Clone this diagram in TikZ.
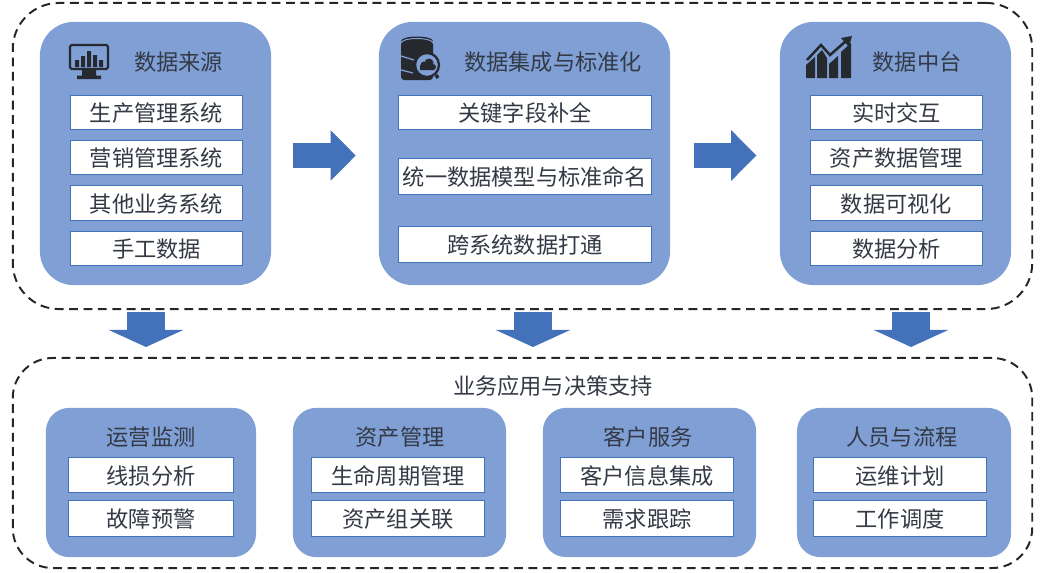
\documentclass[tikz,border=0pt]{standalone}
\usepackage{fontspec}
\setmainfont{Noto Sans CJK SC}
\usetikzlibrary{arrows.meta}
\definecolor{panelblue}{HTML}{7F9FD5}
\definecolor{arrowblue}{HTML}{4472BA}
\definecolor{textgray}{HTML}{333A45}
\definecolor{icondark}{HTML}{26292E}
\tikzset{
  every node/.style={text height=15.3pt, text depth=1.9pt},
  framebox/.style={draw=black!85, line width=1.4pt, dash pattern=on 0.22cm off 0.14cm},
  panelbox/.style={fill=panelblue, rounded corners=0.85cm},
  lowpanel/.style={fill=panelblue, rounded corners=0.58cm},
  itembox/.style={draw=arrowblue, fill=white, line width=0.7pt},
  flowarrow/.style={draw=arrowblue, line width=0.64cm, -{Triangle[length=0.63cm, width=1.23cm, fill=arrowblue]}},
  downarrow/.style={draw=arrowblue, line width=0.95cm, -{Triangle[length=0.43cm, width=1.87cm, fill=arrowblue]}}
}
\begin{document}
\begin{tikzpicture}[x=0.025cm, y=-0.025cm, font=\fontsize{15.8pt}{18pt}\selectfont, text=textgray]
    \useasboundingbox (0,0) rectangle (1041,573);
    % frames
    \node[framebox, rounded corners=1.15cm, minimum width=25.48cm, minimum height=7.65cm] (upper) at (522.5,156) {};
    \node[framebox, rounded corners=1cm, minimum width=25.48cm, minimum height=5.25cm] (lower) at (522.5,463) {};
    % upper panels
    \node[panelbox, minimum width=5.78cm, minimum height=6.58cm] (source) at (155.5,153.5) {};
    \node[panelbox, minimum width=7.28cm, minimum height=6.58cm] (integrate) at (524.5,153.5) {};
    \node[panelbox, minimum width=5.78cm, minimum height=6.58cm] (platform) at (895.5,153.5) {};
    \node (sourcetitle) at (178.5,61) {数据来源};
    \node (integratetitle) at (553,61) {数据集成与标准化};
    \node (platformtitle) at (917,61) {数据中台};
    \node[itembox, minimum width=4.3cm, minimum height=0.87cm] (erp) at (156.5,112.5) {生产管理系统};
    \node[itembox, minimum width=4.3cm, minimum height=0.87cm] (crm) at (156.5,157.5) {营销管理系统};
    \node[itembox, minimum width=4.3cm, minimum height=0.87cm] (other) at (156.5,203) {其他业务系统};
    \node[itembox, minimum width=4.3cm, minimum height=0.87cm] (manual) at (156.5,248.5) {手工数据};
    \node[itembox, minimum width=6.33cm, minimum height=0.87cm] (fields) at (525,112.5) {关键字段补全};
    \node[itembox, minimum width=6.33cm, minimum height=0.92cm] (model) at (525,176.5) {统一数据模型与标准命名};
    \node[itembox, minimum width=6.33cm, minimum height=0.9cm] (cross) at (525,244) {跨系统数据打通};
    \node[itembox, minimum width=4.3cm, minimum height=0.87cm] (realtime) at (896.5,112.5) {实时交互};
    \node[itembox, minimum width=4.3cm, minimum height=0.87cm] (assetdata) at (896.5,157.5) {资产数据管理};
    \node[itembox, minimum width=4.3cm, minimum height=0.87cm] (visual) at (896.5,203) {数据可视化};
    \node[itembox, minimum width=4.3cm, minimum height=0.87cm] (analysis) at (896.5,248.5) {数据分析};
    % block arrows
    \draw[flowarrow, shorten <=0.55cm, shorten >=0.57cm] (source.east |- 0,155.5) -- (integrate.west |- 0,155.5);
    \draw[flowarrow, shorten <=0.6cm, shorten >=0.58cm] (integrate.east |- 0,155.5) -- (platform.west |- 0,155.5);
    \coordinate (downa) at (146,309);
    \coordinate (downb) at (533,309);
    \coordinate (downc) at (911,309);
    \draw[downarrow, shorten <=0.08cm, shorten >=0.25cm] (downa) -- (downa |- lower.north);
    \draw[downarrow, shorten <=0.08cm, shorten >=0.25cm] (downb) -- (downb |- lower.north);
    \draw[downarrow, shorten <=0.08cm, shorten >=0.25cm] (downc) -- (downc |- lower.north);
    % lower part
    \node (lowertitle) at (553,385) {业务应用与决策支持};
    \node[lowpanel, minimum width=5.25cm, minimum height=3.73cm] (ops) at (151,482.5) {};
    \node[lowpanel, minimum width=5.33cm, minimum height=3.73cm] (asset) at (399.5,482.5) {};
    \node[lowpanel, minimum width=5.33cm, minimum height=3.73cm] (service) at (649.5,482.5) {};
    \node[lowpanel, minimum width=5.35cm, minimum height=3.73cm] (staff) at (904,482.5) {};
    \node (opstitle) at (151,436) {运营监测};
    \node (assettitle) at (400,436) {资产管理};
    \node (servicetitle) at (648,436) {客户服务};
    \node (stafftitle) at (902,436) {人员与流程};
    \node[itembox, minimum width=4.13cm, minimum height=0.88cm] (lineloss) at (151,475) {线损分析};
    \node[itembox, minimum width=4.13cm, minimum height=0.88cm] (fault) at (151,518.5) {故障预警};
    \node[itembox, minimum width=4.33cm, minimum height=0.88cm] (lifecycle) at (398,475) {生命周期管理};
    \node[itembox, minimum width=4.33cm, minimum height=0.88cm] (group) at (398,518.5) {资产组关联};
    \node[itembox, minimum width=4.33cm, minimum height=0.88cm] (custinfo) at (647,475) {客户信息集成};
    \node[itembox, minimum width=4.33cm, minimum height=0.88cm] (demand) at (647,518.5) {需求跟踪};
    \node[itembox, minimum width=4.33cm, minimum height=0.88cm] (plan) at (900,475) {运维计划};
    \node[itembox, minimum width=4.33cm, minimum height=0.88cm] (dispatch) at (900,518.5) {工作调度};
    % monitor icon
    \draw[icondark, line width=1.6pt, rounded corners=0.04cm] (70,45) rectangle (108,69);
    \fill[icondark] (82,69) rectangle (96,76) (77,75.5) rectangle (101,79);
    \fill[icondark] (75,60) rectangle (79,67) (81,56) rectangle (85,67) (87,51) rectangle (91,67) (93,55) rectangle (97,67) (99,60) rectangle (103,67);
    % database icon
    \fill[icondark, rounded corners=0.08cm] (401,41) rectangle (433,80);
    \fill[icondark] (417,41) ellipse (16 and 4.5);
    \draw[panelblue, line width=0.7pt] (401,43) arc[start angle=180, end angle=360, x radius=16, y radius=4.5];
    \draw[panelblue, line width=0.9pt] (401,56) -- (414,60) (401,70) -- (413,73);
    \draw[icondark, line width=2.4pt] (436,75) -- (438,78);
    \filldraw[fill=panelblue, draw=icondark, line width=1.6pt] (427,65) circle (12);
    \fill[icondark] (420,70) rectangle (434,65) (424,65) circle (3.5) (429,63) circle (4.5) (433,67) circle (3);
    % chart icon
    \fill[icondark] (806,78) -- (806,65) -- (815,57) -- (815,78) -- cycle;
    \fill[icondark] (817,78) -- (817,55) -- (822,50) -- (827,58) -- (827,78) -- cycle;
    \fill[icondark] (829,78) -- (829,64) -- (838,56) -- (838,78) -- cycle;
    \fill[icondark] (841,78) -- (841,52) -- (851,43) -- (851,78) -- cycle;
    \draw[icondark, line width=1.8pt] (807,60) -- (821,45) -- (830,55) -- (846,41);
    \fill[icondark] (852,36) -- (849,47) -- (841,38) -- cycle;
  \end{tikzpicture}
\end{document}
